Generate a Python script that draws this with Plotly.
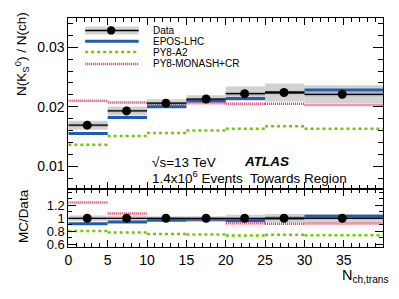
import plotly.graph_objects as go

# ---------------- data ----------------
bin_lo = [0, 5, 10, 15, 20, 25, 30]
bin_hi = [5, 10, 15, 20, 25, 30, 40]
data_x = [2.4, 7.4, 12.4, 17.5, 22.4, 27.4, 34.8]
data_y = [0.0169, 0.0193, 0.0206, 0.0213, 0.0222, 0.0224, 0.0221]
data_tot = [0.00075, 0.00075, 0.00068, 0.00063, 0.0012, 0.0015, 0.0015]
data_stat = [0.00025, 0.00022, 0.0002, 0.0002, 0.0003, 0.0003, 0.00035]
epos = [0.0155, 0.0182, 0.0200, 0.0210, 0.0214, 0.0224, 0.0228]
a2 = [0.0136, 0.0151, 0.0156, 0.0160, 0.0163, 0.0167, 0.0163]
monash = [0.0210, 0.0207, 0.0205, 0.0206, 0.0205, 0.0205, 0.0203]

labels = ["Data", "EPOS-LHC", "PY8-A2", "PY8-MONASH+CR"]
x_ticks = [0, 5, 10, 15, 20, 25, 30, 35]

W, H = 399, 299
FONT = "Liberation Sans, Arial, Helvetica, sans-serif"
BLUE = "#1f5bb0"
GREEN = "#6ccc00"
RED = "#e0305a"

def px(x):
    return x / W

def py(y):
    return 1 - y / H

def steps(vals):
    xs, ys = [], []
    for lo, hi, v in zip(bin_lo, bin_hi, vals):
        xs += [lo, hi, None]
        ys += [v, v, None]
    return xs, ys

ratio = lambda m: [a / b for a, b in zip(m, data_y)]
rel_tot = [e / v for e, v in zip(data_tot, data_y)]
rel_stat = [e / v for e, v in zip(data_stat, data_y)]

fig = go.Figure()
shapes = []

# uncertainty boxes
for lo, hi, v, et, es in zip(bin_lo, bin_hi, data_y, data_tot, data_stat):
    shapes.append(dict(type="rect", xref="x", yref="y", x0=lo, x1=hi, y0=v - et, y1=v + et,
                       fillcolor="#d2d2d2", line=dict(width=0), layer="below"))
    shapes.append(dict(type="rect", xref="x", yref="y", x0=lo, x1=hi, y0=v - es, y1=v + es,
                       fillcolor="#ababab", line=dict(width=0), layer="below"))
for lo, hi, et, es in zip(bin_lo, bin_hi, rel_tot, rel_stat):
    shapes.append(dict(type="rect", xref="x2", yref="y2", x0=lo, x1=hi, y0=1 - et, y1=1 + et,
                       fillcolor="#d2d2d2", line=dict(width=0), layer="below"))
    shapes.append(dict(type="rect", xref="x2", yref="y2", x0=lo, x1=hi, y0=1 - es, y1=1 + es,
                       fillcolor="#ababab", line=dict(width=0), layer="below"))

def add_models(xa, ya, e, a, m, d):
    for vals, col, dash, w in [(m, RED, "1px,1px", 2.5), (a, GREEN, "3px,3px", 2.5), (e, BLUE, "solid", 3)]:
        xs, ys = steps(vals)
        fig.add_trace(go.Scatter(x=xs, y=ys, mode="lines", xaxis=xa, yaxis=ya,
                                 line=dict(color=col, width=w, dash=dash), hoverinfo="skip",
                                 showlegend=False))
    xs, ys = steps(d)
    fig.add_trace(go.Scatter(x=xs, y=ys, mode="lines", xaxis=xa, yaxis=ya,
                             line=dict(color="black", width=1.3), showlegend=False))
    fig.add_trace(go.Scatter(x=data_x, y=d, mode="markers", xaxis=xa, yaxis=ya,
                             marker=dict(color="black", size=9), showlegend=False))

add_models("x", "y", epos, a2, monash, data_y)
add_models("x2", "y2", ratio(epos), ratio(a2), ratio(monash), [1] * len(data_y))

# legend (drawn in paper space)
leg_y = [31, 42, 53, 65]
lx0, lx1 = 82, 136
shapes.append(dict(type="rect", xref="paper", yref="paper", x0=px(lx0), x1=px(lx1),
                   y0=py(leg_y[0] + 4), y1=py(leg_y[0] - 4), fillcolor="#d2d2d2", line=dict(width=0)))
leg_styles = [("black", "solid", 1.3), (BLUE, "solid", 3), (GREEN, "3px,3px", 2.5), (RED, "1px,1px", 2.5)]
for yy, (col, dash, w) in zip(leg_y, leg_styles):
    shapes.append(dict(type="line", xref="paper", yref="paper", x0=px(lx0), x1=px(lx1),
                       y0=py(yy), y1=py(yy), line=dict(color=col, width=w, dash=dash)))
shapes.append(dict(type="circle", xref="paper", yref="paper", x0=px(104), x1=px(112.5),
                   y0=py(leg_y[0] + 4.2), y1=py(leg_y[0] - 4.2), fillcolor="black", line=dict(width=0)))

annotations = []
for yy, t in zip(leg_y, labels):
    annotations.append(dict(x=px(148), y=py(yy), xref="paper", yref="paper", text=t, showarrow=False,
                            xanchor="left", yanchor="middle", font=dict(size=10, family=FONT, color="black")))

annotations += [
    dict(x=px(147), y=py(165), xref="paper", yref="paper", text="\u221As=13 TeV", showarrow=False,
         xanchor="left", yanchor="middle", font=dict(size=13.5, family=FONT, color="black")),
    dict(x=px(240), y=py(164), xref="paper", yref="paper", text="<b><i>ATLAS</i></b>", showarrow=False,
         xanchor="left", yanchor="middle", font=dict(size=13.5, family=FONT, color="black")),
    dict(x=px(147), y=py(180), xref="paper", yref="paper",
         text="1.4x10<sup>6</sup> Events  Towards Region", showarrow=False,
         xanchor="left", yanchor="middle", font=dict(size=13.5, family=FONT, color="black")),
    dict(x=px(18), y=py(55), xref="paper", yref="paper",
         text="N(K<sub>S</sub><sup>0</sup>) / N(ch)", textangle=-90, showarrow=False,
         xanchor="center", yanchor="middle", font=dict(size=13.5, family=FONT, color="black")),
    dict(x=px(20), y=py(220), xref="paper", yref="paper", text="MC/Data", textangle=-90, showarrow=False,
         xanchor="center", yanchor="middle", font=dict(size=13.5, family=FONT, color="black")),
    dict(x=px(339), y=py(281), xref="paper", yref="paper", text="N<sub>ch,trans</sub>", showarrow=False,
         xanchor="left", yanchor="middle", font=dict(size=14.5, family=FONT, color="black")),
]

axis_common = dict(showline=True, linecolor="black", linewidth=1, mirror="allticks", ticks="inside",
                   tickcolor="black", showgrid=False, zeroline=False)
tf14 = dict(size=14, family=FONT, color="black")

x0d, x1d = px(65), px(383)
fig.update_layout(
    width=W, height=H, autosize=False, margin=dict(l=0, r=0, t=0, b=0),
    plot_bgcolor="white", paper_bgcolor="white", showlegend=False,
    xaxis=dict(domain=[x0d, x1d], range=[0, 40], anchor="y", tickvals=x_ticks, showticklabels=False,
               ticklen=7, tickfont=tf14,
               minor=dict(ticks="inside", ticklen=4, dtick=1, tickcolor="black"), **axis_common),
    yaxis=dict(domain=[py(192), py(18.5)], range=[0.0062, 0.0349], anchor="x", dtick=0.01,
               tickformat=".2f", ticklen=10, tickfont=tf14,
               minor=dict(ticks="inside", ticklen=5, dtick=0.002, tickcolor="black"),
               **axis_common),
    xaxis2=dict(domain=[x0d, x1d], range=[0, 40], anchor="y2", tickvals=x_ticks, matches="x",
                ticklen=7, tickfont=tf14,
                minor=dict(ticks="inside", ticklen=4, dtick=1, tickcolor="black"), **axis_common),
    yaxis2=dict(domain=[py(251), py(192)], range=[0.56, 1.455], anchor="x2",
                tickvals=[0.6, 0.8, 1, 1.2], ticktext=["0.6", "0.8", "1", "1.2"], ticklen=8,
                tickfont=dict(size=13, family=FONT, color="black"),
                minor=dict(ticks="inside", ticklen=4, dtick=0.1, tickcolor="black"), **axis_common),
    shapes=shapes, annotations=annotations,
)

fig.write_html("out.html", config={"displayModeBar": False},
               post_script="document.body.style.margin='0px';")
